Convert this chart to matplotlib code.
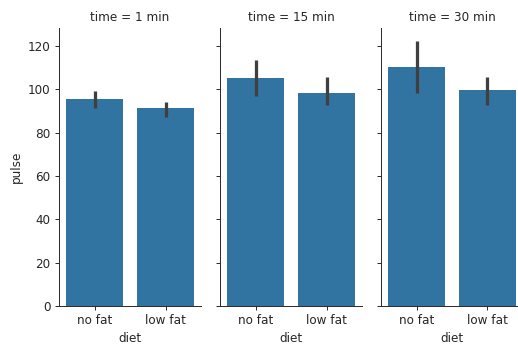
import numpy as np
import matplotlib
matplotlib.use("Agg")
import matplotlib.pyplot as plt

plt.rcParams.update({
    "font.family": "DejaVu Sans", "font.size": 10, "axes.titlesize": 10,
    "axes.labelsize": 10, "xtick.labelsize": 10, "ytick.labelsize": 10,
    "axes.edgecolor": ".15", "xtick.color": ".15", "ytick.color": ".15",
    "axes.labelcolor": ".15", "text.color": ".15",
})

times = ["1 min", "15 min", "30 min"]
diets = ["no fat", "low fat"]
# mean pulse per panel, [no fat, low fat]
means = [[95.4, 91.4], [105.2, 98.1], [110.5, 99.5]]
ci_lo = [[91.5, 87.4], [96.8, 92.6], [98.4, 92.6]]
ci_hi = [[99.4, 94.2], [113.7, 105.7], [122.4, 105.7]]

BAR = "#3274a1"; ERR = "#3f3f3f"
DPI = 86.4
W, H = 518, 355

fig = plt.figure(figsize=(W/DPI, H/DPI), dpi=DPI)
lefts = [59, 220, 381]
axes = []
for l in lefts:
    a = fig.add_axes([l/W, (H-306)/H, 142/W, 278/H], sharey=axes[0] if axes else None)
    axes.append(a)

for i, a in enumerate(axes):
    xs = np.arange(len(diets))
    a.bar(xs, means[i], 0.8, color=BAR)
    a.vlines(xs, ci_lo[i], ci_hi[i], color=ERR, lw=2.7)
    a.set_xticks(xs); a.set_xticklabels(diets)
    a.set_xlim(-0.5, 1.5)
    a.set_xlabel("diet")
    a.set_title(f"time = {times[i]}")
    a.spines["top"].set_visible(False); a.spines["right"].set_visible(False)
    if i > 0:
        a.tick_params(labelleft=False)

axes[0].set_ylim(0, 128.3)
axes[0].set_yticks(range(0, 121, 20))
axes[0].set_ylabel("pulse")
fig.savefig("out.png", dpi=DPI)
